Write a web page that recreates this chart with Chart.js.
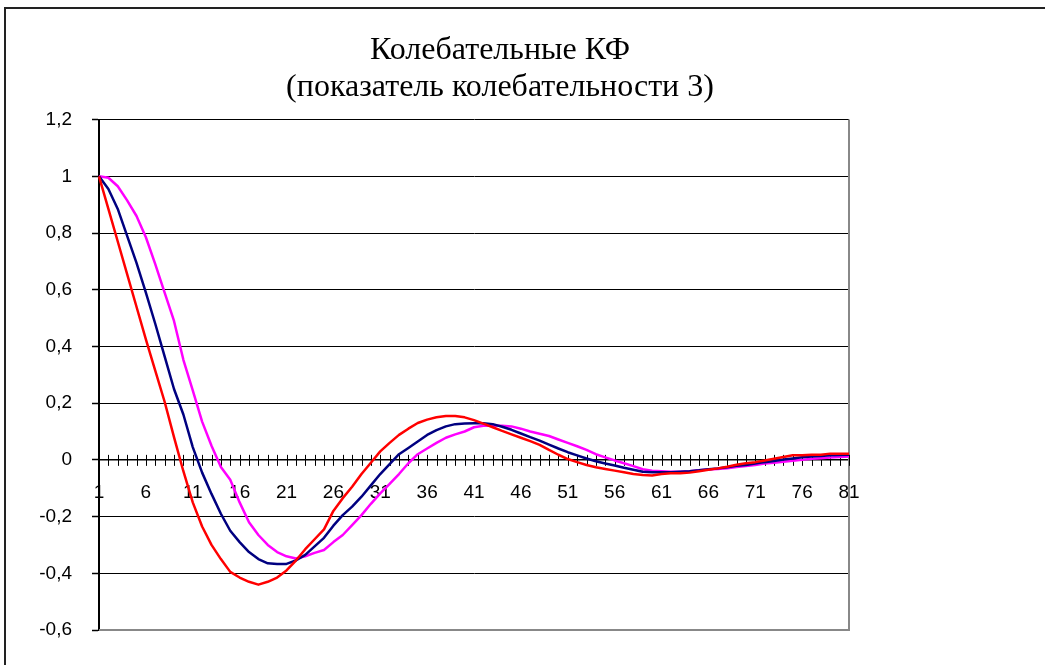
<!DOCTYPE html>
<html>
<head>
<meta charset="utf-8">
<script src="https://cdn.jsdelivr.net/npm/chart.js@4"></script>
<style>
  html, body { margin: 0; padding: 0; background: #fff; overflow: hidden; }
  #frame { position: absolute; left: 4px; top: 7px; width: 1100px; height: 700px; border: 2px solid #222; }
  #wrap { position: absolute; left: 0; top: 0; width: 1045px; height: 665px; }
</style>
</head>
<body>
<div id="frame"></div>
<div id="wrap"><canvas id="kf"></canvas></div>
<script>
// категории 1..81 (лаг)
var labels = Array.from({ length: 81 }, function (_, i) { return String(i + 1); });

var titleLines = ['Колебательные КФ', '(показатель колебательности 3)'];

var yTicksMin = -0.6, yTicksMax = 1.2, yStep = 0.2;

// значения
var redSeries = [
  1.00, 0.885, 0.77, 0.655, 0.54, 0.425, 0.315, 0.205, 0.08, -0.04,
  -0.15, -0.235, -0.30, -0.35, -0.395, -0.415, -0.43, -0.44, -0.43, -0.415,
  -0.39, -0.355, -0.315, -0.28, -0.245, -0.18, -0.135, -0.095, -0.05, -0.01,
  0.03, 0.06, 0.088, 0.11, 0.13, 0.142, 0.15, 0.155, 0.155, 0.15,
  0.14, 0.128, 0.115, 0.102, 0.09, 0.078, 0.066, 0.053, 0.035, 0.018,
  0.003, -0.008, -0.018, -0.026, -0.032, -0.038, -0.044, -0.05, -0.053, -0.055,
  -0.05, -0.047, -0.047, -0.045, -0.04, -0.035, -0.03, -0.024, -0.017, -0.012,
  -0.008, -0.002, 0.004, 0.01, 0.016, 0.016, 0.018, 0.018, 0.022, 0.022,
  0.022
];

var navySeries = [
  1.00, 0.955, 0.885, 0.79, 0.695, 0.59, 0.48, 0.365, 0.25, 0.16,
  0.045, -0.045, -0.12, -0.19, -0.25, -0.29, -0.325, -0.35, -0.365, -0.367,
  -0.367, -0.355, -0.335, -0.305, -0.275, -0.232, -0.195, -0.165, -0.13, -0.09,
  -0.05, -0.015, 0.02, 0.042, 0.065, 0.088, 0.105, 0.118, 0.126, 0.128,
  0.129, 0.129, 0.126, 0.117, 0.106, 0.093, 0.08, 0.068, 0.054, 0.04,
  0.027, 0.016, 0.005, -0.005, -0.013, -0.02, -0.028, -0.035, -0.042, -0.044,
  -0.044, -0.044, -0.042, -0.04, -0.037, -0.033, -0.03, -0.026, -0.021, -0.018,
  -0.013, -0.008, -0.004, 0.001, 0.005, 0.009, 0.012, 0.014, 0.016, 0.017,
  0.018
];

var magentaSeries = [
  1.00, 0.995, 0.965, 0.915, 0.86, 0.785, 0.69, 0.59, 0.49, 0.353,
  0.245, 0.135, 0.05, -0.025, -0.07, -0.15, -0.22, -0.265, -0.30, -0.325,
  -0.34, -0.348, -0.34, -0.328, -0.318, -0.29, -0.265, -0.23, -0.195, -0.155,
  -0.118, -0.085, -0.05, -0.012, 0.02, 0.04, 0.06, 0.078, 0.09, 0.10,
  0.115, 0.12, 0.12, 0.12, 0.118, 0.11, 0.10, 0.092, 0.084, 0.072,
  0.06, 0.048, 0.035, 0.02, 0.009, -0.002, -0.012, -0.022, -0.033, -0.038,
  -0.04, -0.042, -0.042, -0.04, -0.037, -0.034, -0.032, -0.03, -0.025, -0.022,
  -0.018, -0.013, -0.01, -0.007, -0.003, 0.0, 0.004, 0.006, 0.008, 0.01,
  0.012
];

function commaNum(v) {
  var r = Math.round(v * 10) / 10;
  return String(r).replace('.', ',');
}

// рамка области построения (серая справа и снизу) и засечки оси X поперёк нуля
var plotFrame = {
  id: 'plotFrame',
  beforeDatasetsDraw: function (chart) {
    var ctx = chart.ctx, a = chart.chartArea;
    var xs = chart.scales.x, ys = chart.scales.y;
    ctx.save();
    ctx.strokeStyle = '#888';
    ctx.lineWidth = 2;
    ctx.beginPath();
    ctx.moveTo(a.right, a.top);
    ctx.lineTo(a.right, a.bottom);
    ctx.lineTo(a.left, a.bottom);
    ctx.stroke();

    var y0 = ys.getPixelForValue(0);
    ctx.strokeStyle = '#000';
    ctx.lineWidth = 1;
    ctx.beginPath();
    for (var i = 0; i < labels.length; i++) {
      var x = Math.round(xs.getPixelForValue(i)) + 0.5;
      ctx.moveTo(x, y0 - 5);
      ctx.lineTo(x, y0 + 6);
    }
    ctx.stroke();
    ctx.restore();
  }
};

new Chart(document.getElementById('kf').getContext('2d'), {
  type: 'line',
  data: {
    labels: labels,
    datasets: [
      { label: 'red', data: redSeries, borderColor: '#ff0000', borderWidth: 2.5 },
      { label: 'navy', data: navySeries, borderColor: '#000080', borderWidth: 2.5 },
      { label: 'magenta', data: magentaSeries, borderColor: '#ff00ff', borderWidth: 2.5 }
    ]
  },
  options: {
    responsive: true,
    maintainAspectRatio: false,
    animation: false,
    events: [],
    elements: {
      point: { radius: 0 },
      line: { tension: 0, fill: false, borderJoinStyle: 'round' }
    },
    layout: { padding: { left: 5, right: 50, top: 8, bottom: 35 } },
    plugins: {
      legend: { display: false },
      tooltip: { enabled: false },
      title: {
        display: true,
        text: titleLines,
        color: '#000',
        font: { family: '"Liberation Serif", "Times New Roman", serif', size: 32, weight: 'normal', lineHeight: 1.15 },
        padding: { top: 24, bottom: 14 }
      }
    },
    scales: {
      x: {
        type: 'category',
        offset: false,
        position: { y: 0 },
        afterFit: function (s) { s.height = 0; },
        grid: { display: true, drawOnChartArea: false, drawTicks: false },
        border: { display: true, color: '#000', width: 1.5 },
        ticks: {
          autoSkip: false,
          maxRotation: 0,
          padding: 21,
          color: '#000',
          font: { family: '"Liberation Sans", Arial, sans-serif', size: 19 },
          callback: function (v, i) { return i % 5 === 0 ? labels[i] : ''; }
        }
      },
      y: {
        position: 'left',
        min: yTicksMin,
        max: yTicksMax,
        afterFit: function (s) { s.width = 94; },
        grid: { color: '#000', lineWidth: 1, drawTicks: true, tickLength: 7, tickColor: '#000', tickWidth: 1.5 },
        border: { display: true, color: '#000', width: 2 },
        ticks: {
          stepSize: yStep,
          padding: 20,
          color: '#000',
          font: { family: '"Liberation Sans", Arial, sans-serif', size: 19 },
          callback: function (v) { return commaNum(v); }
        }
      },
      yPad: {
        position: 'right',
        display: true,
        afterFit: function (s) { s.width = 146; },
        grid: { display: false },
        border: { display: false },
        ticks: { display: false }
      }
    }
  },
  plugins: [plotFrame]
});
</script>
</body>
</html>
